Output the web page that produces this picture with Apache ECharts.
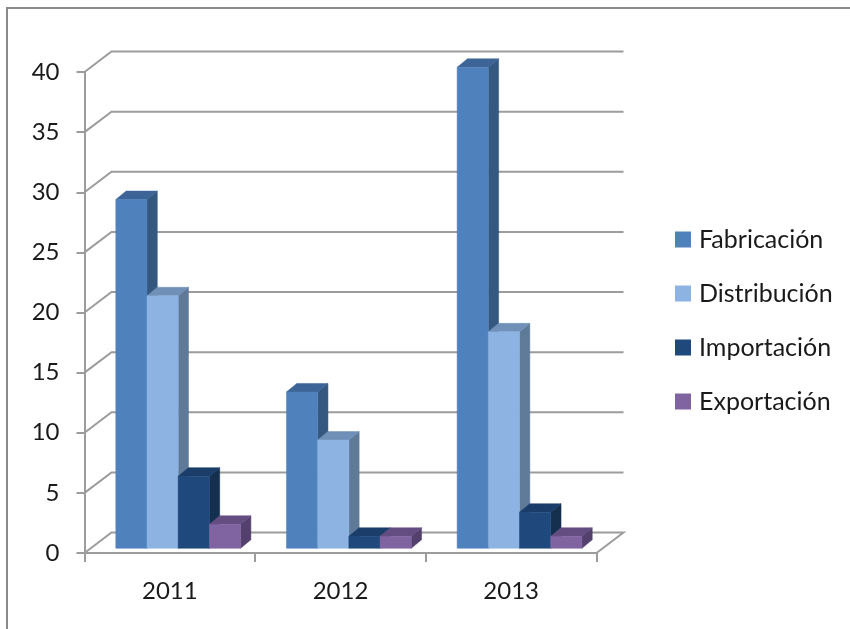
<!DOCTYPE html>
<html>
<head>
<meta charset="utf-8">
<style>html,body{margin:0;padding:0;background:#fff}#chart{width:850px;height:629px}</style>
<script src="https://cdn.jsdelivr.net/npm/echarts@6/dist/echarts.min.js"></script>
</head>
<body>
<div id="chart"></div>
<script>
// Yearly counts per business activity, drawn as extruded columns.
const categories = ['2011', '2012', '2013'];
const fabricacion = [29, 13, 40];
const distribucion = [21, 9, 18];
const importacion = [6, 1, 3];
const exportacion = [2, 1, 1];
const yTicks = [0, 5, 10, 15, 20, 25, 30, 35, 40];

const FONT = 'Lato, "Liberation Sans", sans-serif';
const AXIS_GREY = '#9c9c9c';
const TEXT = '#1a1a1a';

// Column shades: front, top and side faces.
const palettes = [
  { front: '#4f81bd', top: '#3c6496', side: '#34587f' },
  { front: '#8db3e2', top: '#7090b8', side: '#5f7a99' },
  { front: '#1f497d', top: '#1a3d69', side: '#15304f' },
  { front: '#8064a2', top: '#644d80', side: '#54406c' }
];

const WALL_DX = 27, WALL_DY = 20.5;        // floor depth, back wall offset
const BAR_DX = 10.3, BAR_DY = 8.5;         // column extrusion
const BAR_W = 31.2, BAR_START = 31.3, BASE_LIFT = 4.7;

function renderWallLine(params, api) {
  const v = api.value(0);
  const p = api.coord([0, v]);
  const q = api.coord([categories.length - 1, v]);
  const band = api.size([1, 0])[0];
  const x0 = p[0] - band / 2, x1 = q[0] + band / 2, y = p[1];
  const pts = [[x0, y], [x0 + WALL_DX, y - WALL_DY], [x1 + WALL_DX, y - WALL_DY]];
  if (v === 0) pts.push([x1, y]);
  return {
    type: 'polyline',
    shape: { points: pts },
    style: { fill: 'none', stroke: AXIS_GREY, lineWidth: 2 },
    silent: true
  };
}

function columnRenderer(index) {
  const c = palettes[index];
  return function (params, api) {
    const cat = api.value(0), v = api.value(1);
    const top = api.coord([cat, v]);
    const base = api.coord([cat, 0]);
    const band = api.size([1, 0])[0];
    const x0 = top[0] - band / 2 + BAR_START + index * BAR_W;
    const x1 = x0 + BAR_W;
    const yT = top[1] - BASE_LIFT, yB = base[1] - BASE_LIFT;
    const face = (points, fill) => ({ type: 'polygon', shape: { points }, style: { fill, stroke: fill, lineWidth: 0.5 } });
    return {
      type: 'group',
      children: [
        face([[x1, yT], [x1 + BAR_DX, yT - BAR_DY], [x1 + BAR_DX, yB - BAR_DY], [x1, yB]], c.side),
        face([[x0, yT], [x0 + BAR_DX, yT - BAR_DY], [x1 + BAR_DX, yT - BAR_DY], [x1, yT]], c.top),
        face([[x0, yT], [x1, yT], [x1, yB], [x0, yB]], c.front)
      ]
    };
  };
}

const columnSeries = [
  ['Fabricación', fabricacion],
  ['Distribución', distribucion],
  ['Importación', importacion],
  ['Exportación', exportacion]
].map(([name, values], i) => ({
  name,
  type: 'custom',
  coordinateSystem: 'cartesian2d',
  renderItem: columnRenderer(i),
  encode: { x: 0, y: 1 },
  itemStyle: { color: palettes[i].front },
  z: 3 + i,
  clip: false,
  data: values.map((v, k) => [k, v])
}));

const chart = echarts.init(document.getElementById('chart'), null, { renderer: 'canvas' });
chart.setOption({
  animation: false,
  backgroundColor: '#ffffff',
  grid: { left: 84.5, right: 253.5, top: 72, bottom: 76, containLabel: false },
  xAxis: {
    type: 'category',
    data: categories,
    axisLine: { lineStyle: { color: AXIS_GREY, width: 2 } },
    axisTick: { show: true, length: 9, alignWithLabel: false, lineStyle: { color: AXIS_GREY, width: 2 } },
    axisLabel: { color: TEXT, fontFamily: FONT, fontSize: 24, margin: 26 }
  },
  yAxis: {
    type: 'value',
    min: 0,
    max: 40,
    interval: 5,
    axisLine: { show: true, lineStyle: { color: AXIS_GREY, width: 2 } },
    axisTick: { show: true, length: 8, lineStyle: { color: AXIS_GREY, width: 2 } },
    axisLabel: { color: TEXT, fontFamily: FONT, fontSize: 24, margin: 25, padding: [4, 0, 0, 0] },
    splitLine: { show: false }
  },
  legend: {
    orient: 'vertical',
    left: 670,
    top: 222,
    icon: 'rect',
    itemWidth: 16,
    itemHeight: 16,
    itemGap: 29,
    selectedMode: false,
    textStyle: { color: TEXT, fontFamily: FONT, fontSize: 25, padding: [0, 0, 0, 3] },
    data: columnSeries.map(s => s.name)
  },
  // Outer frame: only the top and left edges are ruled.
  graphic: [
    { type: 'polyline', silent: true, shape: { points: [[7, 629], [7, 8], [850, 8]] }, style: { fill: 'none', stroke: '#8a8a8a', lineWidth: 2 } }
  ],
  series: [
    {
      type: 'custom',
      coordinateSystem: 'cartesian2d',
      renderItem: renderWallLine,
      encode: { y: 0 },
      silent: true,
      z: 1,
      clip: false,
      data: yTicks.map(v => [v])
    }
  ].concat(columnSeries)
});
</script>
</body>
</html>
